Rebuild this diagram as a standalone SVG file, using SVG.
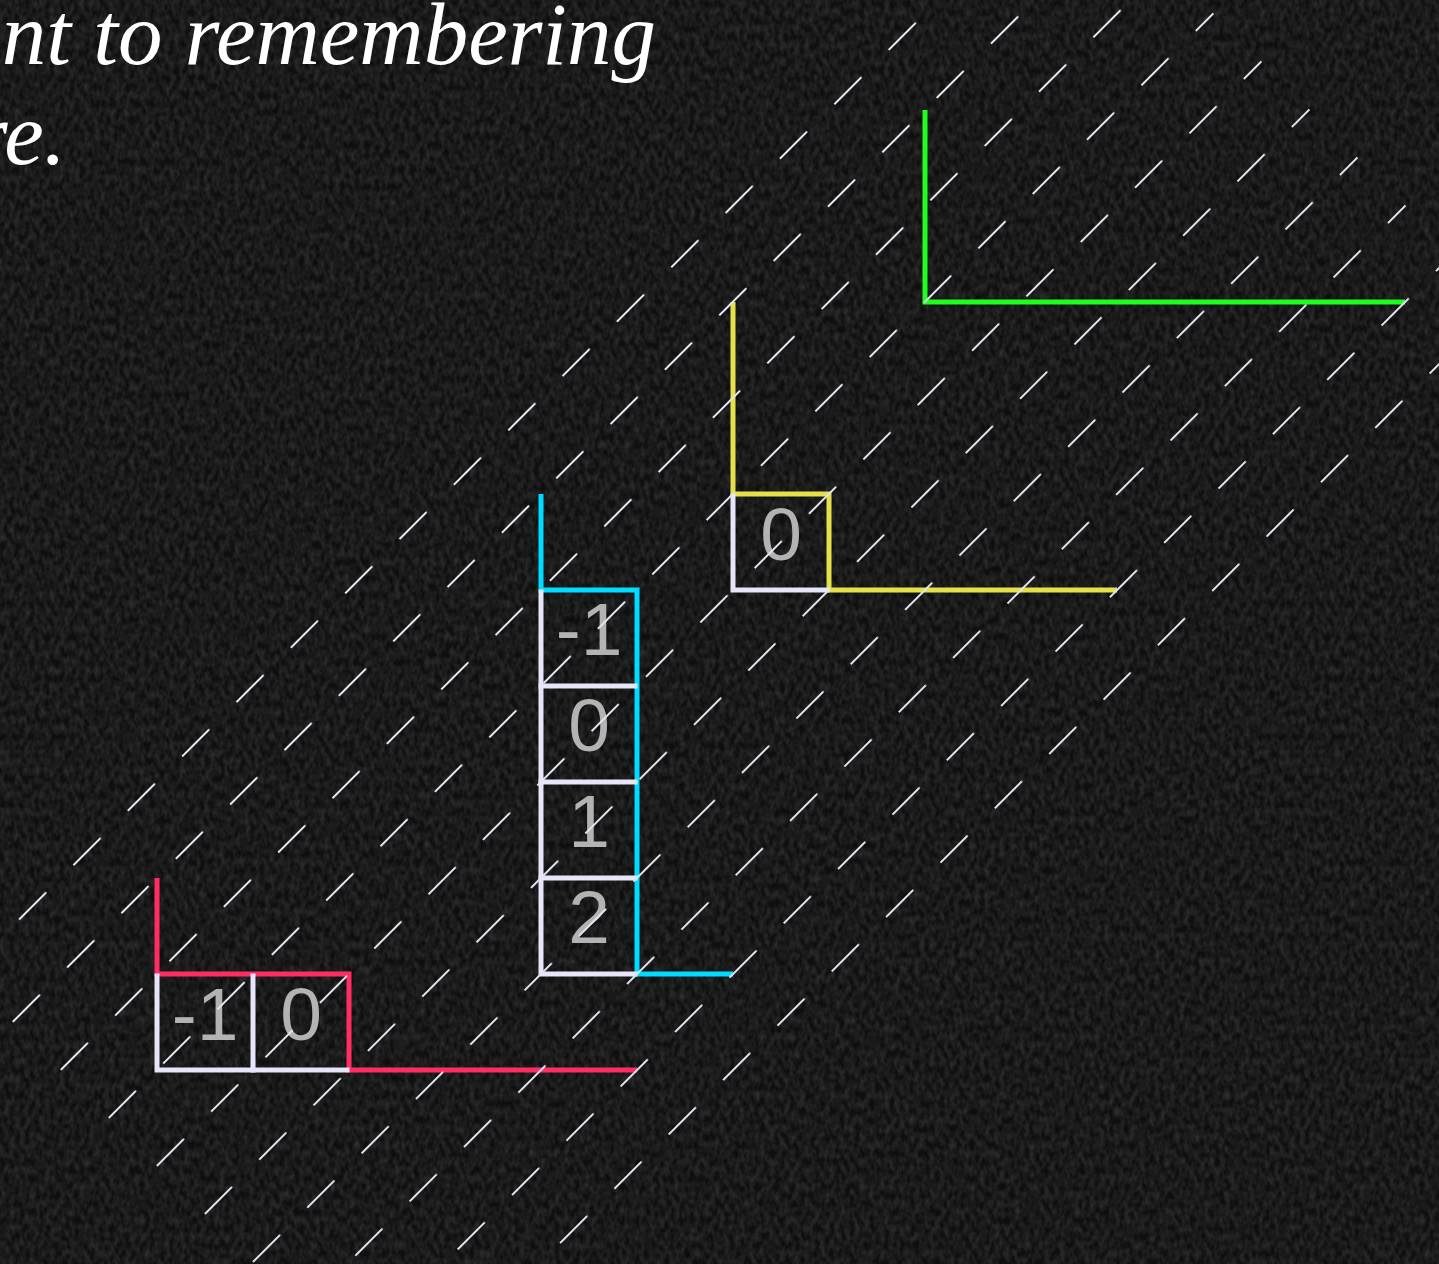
<svg xmlns="http://www.w3.org/2000/svg" width="1439" height="1264" viewBox="0 0 1439 1264">
  <style>
    .cap { font-family: "Liberation Serif", "Times New Roman", serif; font-style: italic; font-size: 89px; fill: #ffffff; }
    .num { font-family: "Liberation Sans", Arial, sans-serif; font-size: 75px; fill: #b3b3b3; text-anchor: middle; }
    .cell { fill: none; stroke: #e6e6fa; stroke-width: 5; stroke-linecap: square; }
    .axis { fill: none; stroke-width: 5; stroke-linejoin: miter; stroke-linecap: butt; }
    .green { stroke: #1eff1e; }
    .yellow { stroke: #e6e14a; }
    .cyan { stroke: #00dcff; }
    .red { stroke: #ff2d62; }
    .rain { stroke: #e4e4f6; stroke-width: 2; stroke-linecap: butt; }
  </style>
  <defs>
    <filter id="grain" x="0" y="0" width="1439" height="1264" filterUnits="userSpaceOnUse">
      <feTurbulence type="fractalNoise" baseFrequency="0.2 0.12" numOctaves="2" seed="7" result="n"/>
      <feColorMatrix in="n" type="matrix" values="0 0 0 0 1  0 0 0 0 1  0 0 0 0 1  0.22 0 0 0 -0.06"/>
    </filter>
    <pattern id="rainPat" patternUnits="userSpaceOnUse" width="76.86" height="67.92" x="506.19" y="629.76" patternTransform="rotate(-45)">
      <line class="rain" x1="10" y1="34" x2="48.4" y2="34"/>
    </pattern>
  </defs>

  <g id="background">
    <rect x="0" y="0" width="1439" height="1264" fill="#0e0e0e"/>
    <rect x="0" y="0" width="1439" height="1264" fill="#ffffff" filter="url(#grain)"/>
  </g>

  <g id="caption">
    <text class="cap" x="656" y="64" text-anchor="end">nt to remembering</text>
    <text class="cap" x="66" y="164" text-anchor="end">re.</text>
  </g>

  <g id="connectors">
    <path id="axis-green" class="axis green" d="M925,110 V302 H1405"/>
    <path id="axis-yellow" class="axis yellow" d="M733,302 V494 H829 V590 H1117"/>
    <path id="axis-cyan" class="axis cyan" d="M541,494 V590 H637 V974 H733"/>
    <path id="axis-red" class="axis red" d="M157,878 V974 H349 V1070 H637"/>
  </g>

  <g id="stack-yellow">
    <g id="yellow-cell-0">
      <path class="cell" d="M733,496 V590 H827"/>
      <text class="num" x="781" y="560">0</text>
    </g>
  </g>

  <g id="stack-cyan">
    <g id="cyan-cell-m1">
      <path class="cell" d="M541,592 V686 H635"/>
      <text class="num" x="589" y="655">-1</text>
    </g>
    <g id="cyan-cell-0">
      <path class="cell" d="M541,686 V782 H635"/>
      <text class="num" x="589" y="751">0</text>
    </g>
    <g id="cyan-cell-1">
      <path class="cell" d="M541,782 V878 H635"/>
      <text class="num" x="589" y="847">1</text>
    </g>
    <g id="cyan-cell-2">
      <path class="cell" d="M541,878 V974 H635"/>
      <text class="num" x="589" y="943">2</text>
    </g>
  </g>

  <g id="stack-red">
    <g id="red-cell-m1">
      <path class="cell" d="M157,976 V1070 H253 V976"/>
      <text class="num" x="205" y="1040">-1</text>
    </g>
    <g id="red-cell-0">
      <path class="cell" d="M253,1070 H347"/>
      <text class="num" x="301" y="1040">0</text>
    </g>
  </g>

  <g id="rain">
    <polygon points="-61,951 1045,-155 1525,325 419,1431" fill="url(#rainPat)"/>
  </g>
</svg>
